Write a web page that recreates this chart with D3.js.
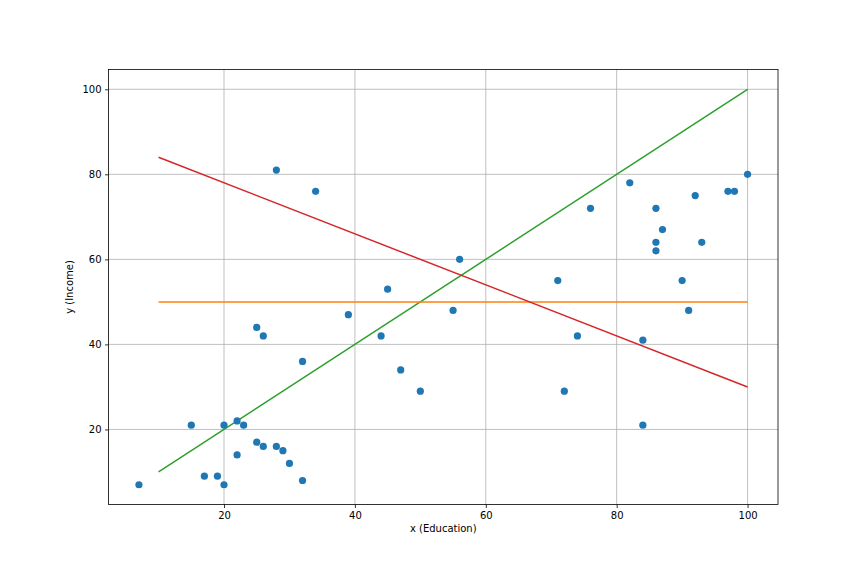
<!DOCTYPE html>
<html><head><meta charset="utf-8">
<script src="https://cdn.jsdelivr.net/npm/d3@7"></script>
<style>body{margin:0;background:#fff}text{font-family:"DejaVu Sans",sans-serif}</style>
</head><body><svg id="c" width="864" height="576"></svg>
<script>
const educationX = [7,15,17,19,20,20,22,22,23,25,26,25,26,28,29,30,32,28,34,32,39,44,45,47,50,55,56,71,72,74,76,82,84,84,86,86,86,87,90,91,92,93,97,98,100];
const incomeY    = [7,21,9,9,21,7,22,14,21,44,42,17,16,16,15,12,8,81,76,36,47,42,53,34,29,48,60,55,29,42,72,78,41,21,72,64,62,67,55,48,75,64,76,76,80];
const lineX = [10,100];
const greenY = [10,100];
const orangeY = [50,50];
const redY = [84,30];
const xTicks = [20,40,60,80,100];
const yTicks = [20,40,60,80,100];

const svg = d3.select("#c");
const L=108.5,R=778,T=69.5,B=504.5;
const x = d3.scaleLinear().domain([2.35,104.65]).range([L,R]);
const y = d3.scaleLinear().domain([2.35,104.65]).range([B,T]);

// grid
svg.append("g").selectAll("line").data(xTicks).join("line")
  .attr("x1",d=>x(d)).attr("x2",d=>x(d)).attr("y1",T).attr("y2",B)
  .attr("stroke","#b0b0b0").attr("stroke-width",0.8);
svg.append("g").selectAll("line").data(yTicks).join("line")
  .attr("y1",d=>y(d)).attr("y2",d=>y(d)).attr("x1",L).attr("x2",R)
  .attr("stroke","#b0b0b0").attr("stroke-width",0.8);

// axes
const xa = svg.append("g").attr("transform",`translate(0,${B})`)
  .call(d3.axisBottom(x).tickValues(xTicks).tickSize(3.5).tickPadding(3.5).tickFormat(d3.format("d")));
const ya = svg.append("g").attr("transform",`translate(${L},0)`)
  .call(d3.axisLeft(y).tickValues(yTicks).tickSize(3.5).tickPadding(3.5).tickFormat(d3.format("d")));
[xa,ya].forEach(a=>{a.select(".domain").remove();a.selectAll("text").attr("font-size",10).attr("fill","#000").style("font-family","DejaVu Sans");a.selectAll("line").attr("stroke","#000").attr("stroke-width",0.8);});

// lines
const ln = d3.line().x(d=>x(d[0])).y(d=>y(d[1]));
svg.append("path").attr("d",ln(lineX.map((v,i)=>[v,greenY[i]]))).attr("fill","none").attr("stroke","#2ca02c").attr("stroke-width",1.5);
svg.append("path").attr("d",ln(lineX.map((v,i)=>[v,orangeY[i]]))).attr("fill","none").attr("stroke","#ff7f0e").attr("stroke-opacity",0.75).attr("stroke-width",2);
svg.append("path").attr("d",ln(lineX.map((v,i)=>[v,redY[i]]))).attr("fill","none").attr("stroke","#d62728").attr("stroke-width",1.5);

// points
svg.append("g").selectAll("circle").data(educationX.map((v,i)=>[v,incomeY[i]])).join("circle")
  .attr("cx",d=>x(d[0])).attr("cy",d=>y(d[1])).attr("r",3.6).attr("fill","#1f77b4");

// frame
svg.append("rect").attr("x",L).attr("y",T).attr("width",R-L).attr("height",B-T).attr("fill","none").attr("stroke","#000").attr("stroke-width",0.8);

svg.append("text").attr("x",(L+R)/2).attr("y",532).attr("text-anchor","middle").attr("font-size",10).text("x (Education)");
svg.append("text").attr("transform",`translate(73,${(T+B)/2}) rotate(-90)`).attr("text-anchor","middle").attr("font-size",10).text("y (Income)");
</script></body></html>
